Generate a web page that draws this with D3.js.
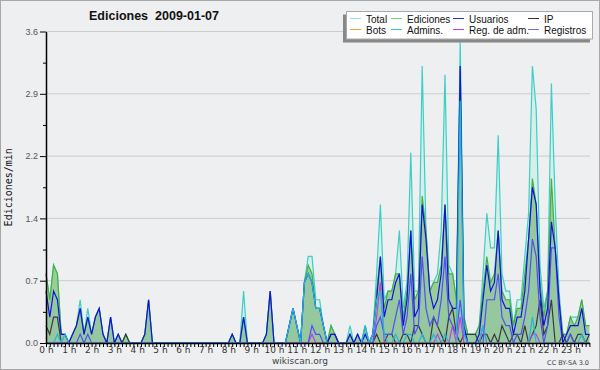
<!DOCTYPE html>
<html>
<head>
<meta charset="utf-8">
<script src="https://cdn.jsdelivr.net/npm/d3@7"></script>
<style>
body { margin: 0; background: #fff; }
svg { display: block; }
</style>
</head>
<body>
<div id="chart"></div>
<script>
// edits per minute, one value per 10 min bucket (144 buckets)
var total = [0.8,0.5,0.9,0.8,0.1,0.1, 0,0.1,0.2,0.5,0.1,0.4, 0.1,0.3,0.4,0.1,0,0.3, 0,0.1,0,0.1,0,0,
  0,0,0.1,0.5,0,0, 0,0,0,0,0,0, 0,0,0,0,0,0, 0,0,0,0,0,0,
  0,0.1,0,0,0.6,0, 0,0,0,0,0.1,0.6, 0,0,0,0,0.2,0.4, 0.2,0,0.7,1.0,1.0,0.5,
  0.5,0.2,0,0.2,0.1,0, 0,0,0.2,0,0.1,0, 0.2,0,0.1,0.8,1.6,0.5, 0.6,0.6,0.8,1.3,0.4,0.7,
  2.2,0.6,0.6,3.2,1.3,0.6, 0.7,0.8,1.3,3.1,0.9,0.8, 0.5,3.5,0.3,0.1,0.1,0.1, 0.2,0.8,1.5,1.1,1.1,2.4,
  0.8,0.6,0.6,0.2,0.5,0.5, 1.0,1.5,3.2,2.7,0.9,0.4, 0.6,3.0,1.6,0.6,0.1,0.1, 0.3,0.3,0.3,0.5,0.2,0.2];
var edits = [0.8,0.5,0.9,0.8,0.1,0.1, 0,0.1,0.2,0.4,0.1,0.3, 0.1,0.3,0.4,0.1,0,0.3, 0,0.1,0,0.1,0,0,
  0,0,0.1,0.5,0,0, 0,0,0,0,0,0, 0,0,0,0,0,0, 0,0,0,0,0,0,
  0,0.1,0,0,0.3,0, 0,0,0,0,0.1,0.6, 0,0,0,0,0.2,0.4, 0.2,0,0.7,0.9,0.8,0.4,
  0.4,0.2,0,0.2,0.1,0, 0,0,0.1,0,0.1,0, 0.2,0,0.1,0.6,1.0,0.4, 0.6,0.6,0.8,0.8,0.3,0.6,
  1.3,0.5,0.6,1.7,1.3,0.6, 0.7,0.7,0.9,1.6,0.8,0.8, 0.5,3.2,0.3,0.1,0.1,0.1, 0.2,0.6,1.0,0.7,0.8,1.3,
  0.6,0.5,0.5,0.2,0.4,0.4, 0.8,1.2,1.9,1.6,0.7,0.3, 0.6,1.9,1.1,0.5,0.1,0.1, 0.3,0.2,0.3,0.5,0.2,0.2];
var users = [0.6,0.3,0.6,0.5,0.1,0.1, 0,0.1,0.2,0.4,0.1,0.3, 0.1,0.3,0.4,0.1,0,0.3, 0,0.1,0,0,0,0,
  0,0,0.1,0.5,0,0, 0,0,0,0,0,0, 0,0,0,0,0,0, 0,0,0,0,0,0,
  0,0.1,0,0,0.3,0, 0,0,0,0,0.1,0.6, 0,0,0,0,0.2,0.4, 0.2,0,0.7,0.8,0.7,0.4,
  0.4,0.2,0,0.1,0.1,0, 0,0,0.1,0,0.1,0, 0.1,0,0.1,0.5,1.0,0.3, 0.5,0.5,0.7,0.8,0.2,0.5,
  1.3,0.3,0.4,1.6,1.2,0.6, 0.4,0.5,0.8,1.6,0.5,0.4, 0.4,3.2,0.2,0,0,0, 0.1,0.5,0.9,0.6,0.7,1.3,
  0.5,0.4,0.4,0.1,0.3,0.3, 0.6,1.2,1.8,1.6,0.6,0.2, 0.4,1.4,1.1,0.5,0,0.1, 0.2,0.2,0.2,0.4,0.1,0.1];
var ip = [0.2,0.1,0.3,0.3,0,0, 0,0,0,0,0,0, 0,0,0,0,0,0, 0,0,0,0.1,0,0,
  0,0,0,0,0,0, 0,0,0,0,0,0, 0,0,0,0,0,0, 0,0,0,0,0,0,
  0,0,0,0,0,0, 0,0,0,0,0,0, 0,0,0,0,0,0, 0,0,0,0,0,0,
  0,0,0,0.1,0.1,0, 0,0,0,0,0,0, 0,0,0,0.1,0,0, 0.1,0.1,0,0,0.1,0.1,
  0,0.2,0.2,0.1,0,0, 0.3,0.2,0.1,0,0.3,0.4, 0.1,0,0.1,0.1,0.1,0.1, 0,0.1,0.1,0,0.1,0,
  0.2,0.1,0,0.1,0.1,0, 0.2,0,0.1,0.2,0.5,0.1, 0.2,0.5,0,0,0.1,0, 0.1,0,0.1,0.1,0,0.1];
var bots = d3.range(144).map(function() { return 0; });
var admins = [0,0,0,0.1,0,0.1, 0,0,0,0,0,0, 0,0,0,0,0,0, 0,0,0,0,0,0,
  0,0,0,0,0,0, 0,0,0,0,0,0, 0,0,0,0,0,0, 0,0,0,0,0,0,
  0,0,0,0,0,0, 0,0,0,0,0,0, 0,0,0,0,0.2,0.4, 0.2,0,0.7,0.8,0.7,0.4,
  0.4,0.2,0,0,0,0, 0,0,0,0,0,0, 0.2,0,0.1,0.5,0.6,0.1, 0,0,0.1,0,0,0.1,
  0.1,0,0,0.1,0,0, 0.1,0,0,0.1,0,0, 0,2.8,0.1,0,0,0, 0,0.2,0,0,0,0,
  0,0,0,0,0,0, 0,0,0.3,0,0,0, 0,0,0,0,0,0, 0,0,0,0.1,0,0];
var regadm = [0,0,0,0,0,0, 0,0,0,0,0,0, 0,0,0,0,0,0, 0,0,0,0,0,0,
  0,0,0,0,0,0, 0,0,0,0,0,0, 0,0,0,0,0,0, 0,0,0,0,0,0,
  0,0,0,0,0,0, 0,0,0,0,0,0, 0,0,0,0,0,0, 0,0,0,0,0.1,0,
  0,0,0,0,0,0, 0,0,0,0,0,0, 0,0,0,0.3,0.7,0, 0,0,0,0,0,0,
  0,0,0,0,0,0, 0,0.1,0,0,0,0.2, 0,0.3,0,0,0,0, 0,0.2,0,0,0,0,
  0,0,0,0,0,0, 0,0,0.1,0.1,0,0, 0,0,0,0,0,0, 0,0,0,0,0,0];
var registros = [0,0,0,0,0,0, 0,0,0,0.1,0,0.1, 0,0,0,0,0,0, 0,0,0,0,0,0,
  0,0,0,0,0,0, 0,0,0,0,0,0, 0,0,0,0,0,0, 0,0,0,0,0,0,
  0,0,0,0,0,0, 0,0,0,0,0,0, 0,0,0,0,0,0, 0,0,0,0,0.2,0.1,
  0.1,0,0,0,0,0, 0,0,0,0,0,0, 0,0,0,0.2,0.3,0.1, 0.1,0.1,0.3,0.5,0.1,0.3,
  0.8,0.1,0.2,1.0,0.4,0.2, 0.3,0.2,0.5,1.0,0.3,0.2, 0.1,0.5,0.1,0,0,0, 0,0,0.5,0.5,0.5,0.8,
  0.3,0.2,0.2,0,0.1,0.1, 0.3,0.6,1.2,1.0,0.3,0, 0.2,1.1,1.1,0.3,0,0, 0.1,0,0,0,0,0];

var yTicks = [0, 0.72, 1.44, 2.16, 2.88, 3.6];

var legendItems = [
  {name: "Total", color: "#9fe3dc"}, {name: "Ediciones", color: "#7fcf7f"},
  {name: "Usuarios", color: "#2a2ae0"}, {name: "IP", color: "#333333"},
  {name: "Bots", color: "#f5a030"}, {name: "Admins.", color: "#30c8d8"},
  {name: "Reg. de adm.", color: "#c040e0"}, {name: "Registros", color: "#7070f0"}
];

var width = 600, height = 370;
var margin = {left: 46, right: 10, top: 31.5, bottom: 27};

var svg = d3.select("#chart").append("svg")
    .attr("width", width)
    .attr("height", height);

// background and frame
svg.append("rect")
    .attr("x", 0.5).attr("y", 0.5)
    .attr("width", width - 1).attr("height", height - 1)
    .attr("fill", "#eeeff1")
    .attr("stroke", "#a8a8a8");

var x = d3.scaleLinear().domain([0, 143]).range([margin.left, 589.4]);
var y = d3.scaleLinear().domain([0, 3.6]).range([height - margin.bottom, margin.top]);

// grid
svg.append("g").selectAll("line")
    .data(yTicks.slice(1))
  .enter().append("line")
    .attr("x1", margin.left).attr("x2", 590)
    .attr("y1", function(d) { return y(d); })
    .attr("y2", function(d) { return y(d); })
    .attr("stroke", "#cccccc");

var area = function(vals) {
  return d3.area().x(function(d, i) { return x(i); }).y0(y(0)).y1(function(d) { return y(d); })(vals);
};
var line = function(vals) {
  return d3.line().x(function(d, i) { return x(i); }).y(function(d) { return y(d); })(vals);
};

// filled series
svg.append("path").attr("d", area(total)).attr("fill", "#c8efe4").attr("fill-opacity", 0.6);
svg.append("path").attr("d", line(total)).attr("fill", "none").attr("stroke", "#3ccfc6").attr("stroke-width", 1.2);
svg.append("path").attr("d", area(edits)).attr("fill", "#92ca92").attr("fill-opacity", 0.9);
svg.append("path").attr("d", area(users)).attr("fill", "#7f9fb8").attr("fill-opacity", 0.12);
svg.append("path").attr("d", line(edits)).attr("fill", "none").attr("stroke", "#44b044").attr("stroke-width", 1.2);

// plain lines
var lines = [
  {v: ip, c: "#3a3a3a"}, {v: bots, c: "#f5a030"}, {v: regadm, c: "#c040e0"},
  {v: registros, c: "#5050f0"}, {v: users, c: "#1212e0"}, {v: admins, c: "#25b5e0"}
];
lines.forEach(function(s) {
  svg.append("path").attr("d", line(s.v))
      .attr("fill", "none").attr("stroke", s.c).attr("stroke-width", 1.2);
});

// x axis
var xAxis = svg.append("g")
    .attr("transform", "translate(0," + y(0) + ")")
    .call(d3.axisBottom(x).tickValues(d3.range(0, 144)).tickSize(4).tickSizeOuter(0)
      .tickFormat(function(i) { return i % 6 === 0 ? (i / 6) + " h" : ""; }));
xAxis.select(".domain").attr("d", "M" + margin.left + ",0.5H590").attr("stroke", "#000").attr("stroke-width", 1.5);
xAxis.selectAll("line").attr("stroke", "#000");
xAxis.selectAll("text")
    .attr("y", 10).attr("dy", null)
    .style("font", "9px 'DejaVu Sans'").attr("fill", "#333");

// y axis
var yAxis = svg.append("g")
    .attr("transform", "translate(" + margin.left + ",0)")
    .call(d3.axisLeft(y).tickValues(yTicks).tickSize(6).tickSizeOuter(0).tickPadding(2)
      .tickFormat(d3.format(".1f")));
yAxis.select(".domain").attr("stroke", "#000").attr("stroke-width", 1.5);
yAxis.selectAll("text").style("font", "9px 'Liberation Sans'").attr("fill", "#555");
svg.append("g")
    .attr("transform", "translate(" + margin.left + ",0)")
    .call(d3.axisLeft(y).tickValues(yTicks.slice(1).map(function(d) { return d - 0.36; }))
      .tickSize(3).tickFormat(""))
    .select(".domain").remove();

// y label
svg.append("text")
    .attr("transform", "translate(12," + ((y(0) + y(3.6)) / 2) + ") rotate(-90)")
    .attr("text-anchor", "middle")
    .style("font", "10px 'DejaVu Sans Mono'")
    .attr("fill", "#111")
    .text("Ediciones/min");

// title
svg.append("text")
    .attr("x", 154).attr("y", 20)
    .attr("text-anchor", "middle")
    .style("font", "bold 12.5px 'Liberation Sans'")
    .attr("fill", "#111")
    .text("Ediciones\u00a0\u00a02009-01-07");

// legend
var lg = svg.append("g");
lg.append("rect").attr("x", 343).attr("y", 14.5).attr("width", 247).attr("height", 28).attr("fill", "#888");
lg.append("rect").attr("x", 346.5).attr("y", 11.5).attr("width", 246).attr("height", 27.5)
    .attr("fill", "#fff").attr("stroke", "#aaa");
var colX = [350, 391, 453, 528];
legendItems.forEach(function(d, k) {
  var cx = colX[k % 4], cy = k < 4 ? 18.5 : 29.5;
  lg.append("line").attr("x1", cx).attr("x2", cx + 11).attr("y1", cy).attr("y2", cy)
      .attr("stroke", d.color).attr("stroke-width", 1);
  lg.append("text").attr("x", cx + 16).attr("y", cy + 4)
      .style("font", "10px 'Liberation Sans'").attr("fill", "#111").text(d.name);
});

// footer
svg.append("text").attr("x", 300).attr("y", 364).attr("text-anchor", "middle")
    .style("font", "9px 'DejaVu Sans'").attr("fill", "#444").text("wikiscan.org");
svg.append("text").attr("x", 589).attr("y", 365).attr("text-anchor", "end")
    .style("font", "6.5px 'DejaVu Sans'").attr("fill", "#444").text("CC BY-SA 3.0");
</script>
</body>
</html>
